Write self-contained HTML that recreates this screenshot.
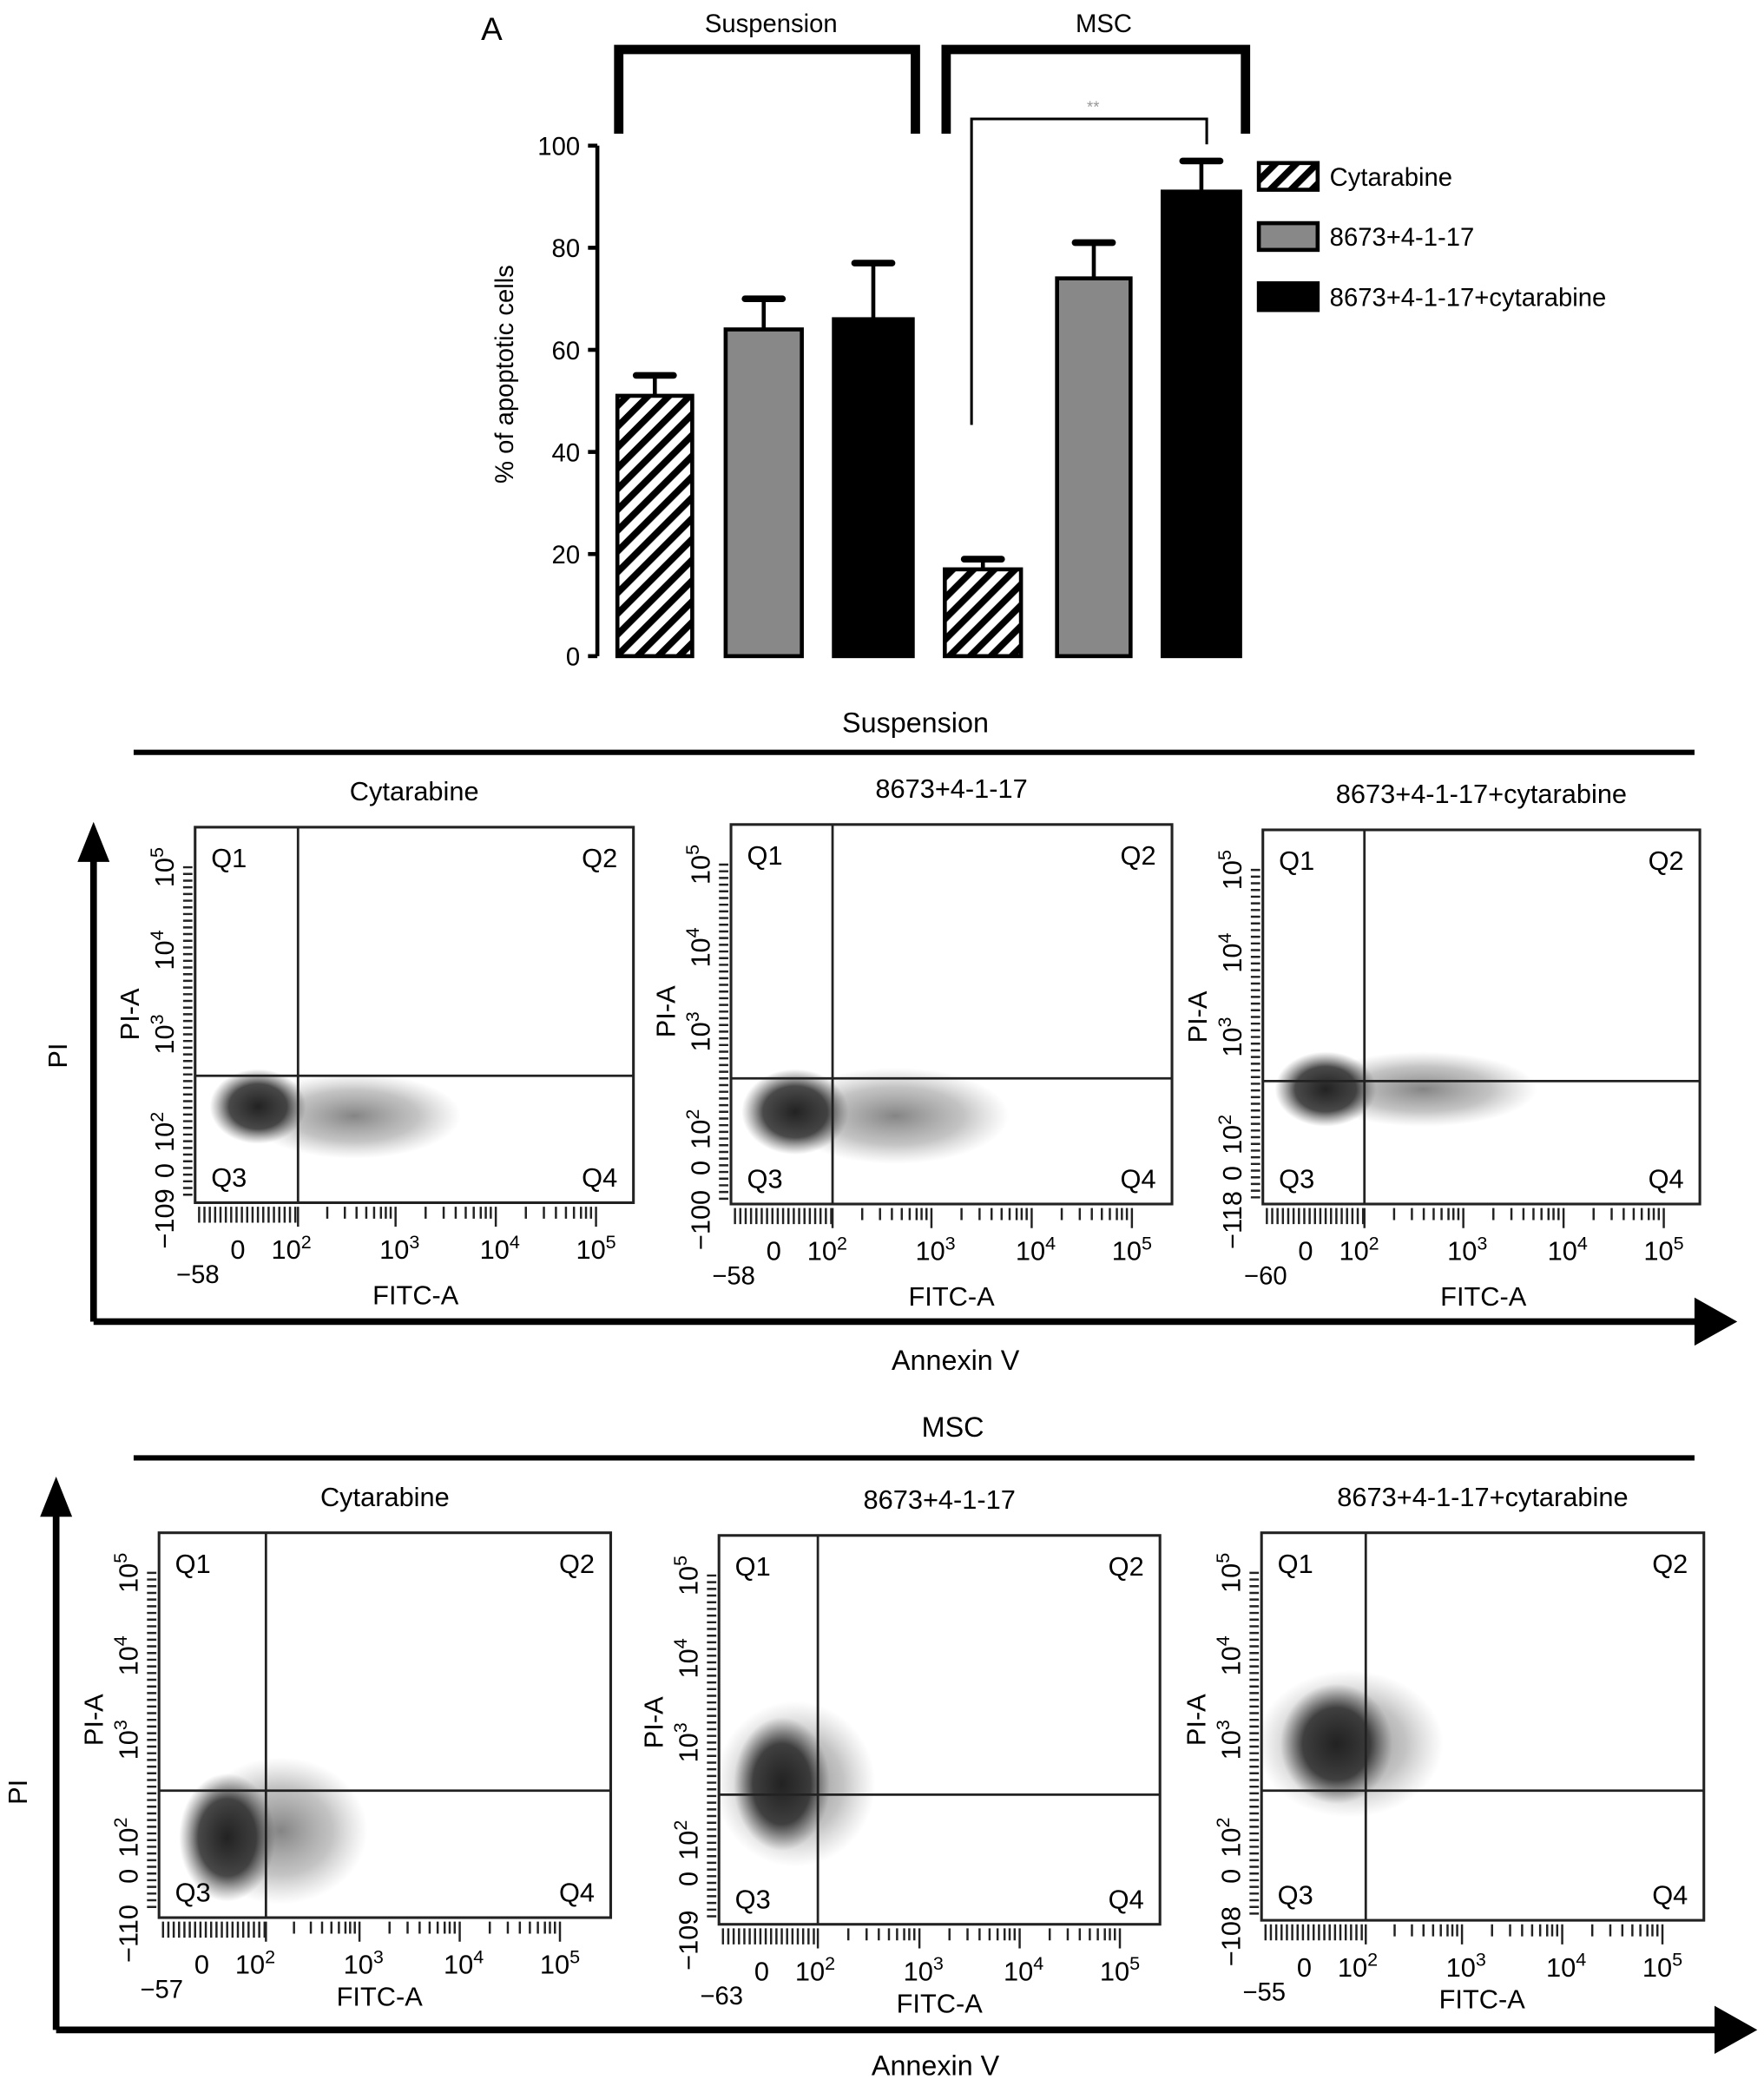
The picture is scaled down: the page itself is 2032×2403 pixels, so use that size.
<!DOCTYPE html>
<html><head><meta charset="utf-8"><style>
html,body{margin:0;padding:0;background:#fff;}
svg{display:block;font-family:"Liberation Sans",Arial,sans-serif;}
</style></head><body>
<svg id="fig" width="2032" height="2403" viewBox="0 0 1320 1561" xmlns="http://www.w3.org/2000/svg">
<defs>
<pattern id="hatch" patternUnits="userSpaceOnUse" width="11" height="11" patternTransform="rotate(45)">
<rect width="11" height="11" fill="#fff"/><rect x="0" y="0" width="5" height="11" fill="#000"/>
</pattern>
<radialGradient id="cloud"><stop offset="0" stop-color="#222" stop-opacity="1"/><stop offset="0.6" stop-color="#2a2a2a" stop-opacity="0.85"/><stop offset="1" stop-color="#555" stop-opacity="0"/></radialGradient>
<radialGradient id="cloudLight"><stop offset="0" stop-color="#333" stop-opacity="0.6"/><stop offset="0.6" stop-color="#555" stop-opacity="0.35"/><stop offset="1" stop-color="#777" stop-opacity="0"/></radialGradient>
</defs>
<g id="bar-chart"></g>
<g id="flow"></g>
</svg>
<script>
const NS="http://www.w3.org/2000/svg";
const groups=["Suspension","MSC"];
const series=["Cytarabine","8673+4-1-17","8673+4-1-17+cytarabine"];
const values=[51,64,66,17,74,91];
const errors=[4,6,11,2,7,6];
const yTicks=[0,20,40,60,80,100];

function mk(parent,tag,attrs,text){const e=document.createElementNS(NS,tag);for(const k in attrs)e.setAttribute(k,attrs[k]);if(text!==undefined)e.textContent=text;parent.appendChild(e);return e;}
function label(parent,attrs,base,exp){const t=mk(parent,'text',attrs,base);if(exp){mk(t,'tspan',{dy:-8,'font-size':14},exp);}return t;}

const bc=document.getElementById('bar-chart');
const y0=491,yPer=3.82;
const Y=v=>y0-v*yPer;
const barX=[462,543,624,707,791,870], barW=[56,57,59,57,55,58];
const fills=["url(#hatch)","#888","#000"];
let ax=mk(bc,'line',{x1:447,y1:Y(0),x2:447,y2:Y(100),stroke:'#000','stroke-width':3});

yTicks.forEach(t=>{
 const l=mk(bc,'line',{x1:440,y1:Y(t),x2:447,y2:Y(t),stroke:'#000','stroke-width':3});
 
 const tx=mk(bc,'text',{x:434,y:Y(t)+7,'font-size':19,'text-anchor':'end'},t);
 
});
let yt=mk(bc,'text',{x:384,y:280,'font-size':19,'text-anchor':'middle',transform:'rotate(-90 384 280)'},'% of apoptotic cells');

values.forEach((v,i)=>{
 const x=barX[i],w=barW[i],top=Y(v+errors[i]);
 const e1=mk(bc,'line',{x1:x+w/2,y1:Y(v),x2:x+w/2,y2:top,stroke:'#000','stroke-width':3});
 
 const e2=mk(bc,'line',{x1:x+w/2-14,y1:top,x2:x+w/2+14,y2:top,stroke:'#000','stroke-width':5,'stroke-linecap':'round'});
 
 const r=mk(bc,'rect',{x:x,y:Y(v),width:w,height:v*yPer,fill:fills[i%3],stroke:'#000','stroke-width':3});
 
 
});
mk(bc,'text',{x:360,y:30,'font-size':24},'A');
[[463,685,'Suspension',577],[708,932,'MSC',826]].forEach(b=>{
 const p=mk(bc,'path',{d:`M${b[0]} 100 V37 H${b[1]} V100`,fill:'none',stroke:'#000','stroke-width':7});
 
 const t=mk(bc,'text',{x:b[3],y:24,'font-size':19,'text-anchor':'middle'},b[2]);
 
});
let sig=mk(bc,'path',{d:'M727 318 V89 H903 V108',fill:'none',stroke:'#000','stroke-width':2});

let st=mk(bc,'text',{x:818,y:84,'font-size':12,fill:'#999','text-anchor':'middle'},'**');

series.forEach((s,i)=>{
 const yy=122+i*45;
 const r=mk(bc,'rect',{x:942,y:yy,width:44,height:20,fill:fills[i],stroke:'#000','stroke-width':3});
 
 const t=mk(bc,'text',{x:995,y:yy+17,'font-size':19},s);
 
});

const fl=document.getElementById('flow');
const panels=[
 {l:146,t:619,r:474,b:900,gx:223,gy:805,ymin:'−109',xmin:'−58',title:'Cytarabine',clouds:[[265,835,80,32,'cloudLight'],[193,828,36,28,'cloud']]},
 {l:547,t:617,r:877,b:901,gx:623,gy:807,ymin:'−100',xmin:'−58',title:'8673+4-1-17',clouds:[[670,835,85,36,'cloudLight'],[595,832,40,32,'cloud']]},
 {l:945,t:621,r:1272,b:901,gx:1021,gy:809,ymin:'−118',xmin:'−60',title:'8673+4-1-17+cytarabine',clouds:[[1065,815,85,28,'cloudLight'],[992,815,38,28,'cloud']]},
 {l:119,t:1147,r:457,b:1435,gx:199,gy:1340,ymin:'−110',xmin:'−57',title:'Cytarabine',clouds:[[210,1370,65,55,'cloudLight'],[170,1375,36,48,'cloud']]},
 {l:538,t:1149,r:868,b:1440,gx:612,gy:1343,ymin:'−109',xmin:'−63',title:'8673+4-1-17',clouds:[[595,1335,60,62,'cloudLight'],[585,1335,36,50,'cloud']]},
 {l:944,t:1147,r:1275,b:1437,gx:1022,gy:1340,ymin:'−108',xmin:'−55',title:'8673+4-1-17+cytarabine',clouds:[[1010,1305,70,55,'cloudLight'],[1000,1305,42,45,'cloud']]}
];
panels.forEach((p,i)=>{
 const g=mk(fl,'g',{});
 
 const cx=(p.l+p.r)/2;
 const tt=mk(g,'text',{x:cx,y:p.t-20,'font-size':20,'text-anchor':'middle'},p.title);
 
 const cl=mk(g,'g',{});
 p.clouds.forEach(c=>mk(cl,'ellipse',{cx:c[0],cy:c[1],rx:c[2],ry:c[3],fill:`url(#${c[4]})`}));
 
 const bx=mk(g,'rect',{x:p.l,y:p.t,width:p.r-p.l,height:p.b-p.t,fill:'none',stroke:'#222','stroke-width':2});
 
 const gv=mk(g,'line',{x1:p.gx,y1:p.t,x2:p.gx,y2:p.b,stroke:'#222','stroke-width':1.8});
 
 const gh=mk(g,'line',{x1:p.l,y1:p.gy,x2:p.r,y2:p.gy,stroke:'#222','stroke-width':1.8});
 
 [['Q1',p.l+12,p.t+30,'start'],['Q2',p.r-12,p.t+30,'end'],['Q3',p.l+12,p.b-12,'start'],['Q4',p.r-12,p.b-12,'end']].forEach(q=>{
  const t=mk(g,'text',{x:q[1],y:q[2],'font-size':20,'text-anchor':q[3]},q[0]);
  
 });
 let d='';
 for(let x=p.l+3;x<p.gx;x+=4)d+=`M${x} ${p.b+3}V${p.b+15}`;
 [p.gx,p.l+150,p.l+225,p.l+300].forEach((dx,k)=>{const s=dx;const e=k==0?p.l+150:(k==3?s:dx+75);
  d+=`M${s} ${p.b+3}V${p.b+18}`;
  if(k<3){for(const f of [0.3,0.48,0.6,0.7,0.78,0.85,0.9,0.95])d+=`M${s+(e-s)*f} ${p.b+3}V${p.b+12}`;}});
 for(let y=p.t+30;y<p.b-3;y+=5)d+=`M${p.l-2} ${y}H${p.l-9}`;
 const tk=mk(g,'path',{d:d,stroke:'#222','stroke-width':1.6,fill:'none'});
 
 const xl=[['0','',p.l+32],['10','2',p.l+72],['10','3',p.l+153],['10','4',p.l+228],['10','5',p.l+300]];
 xl.forEach(a=>{const t=label(g,{x:a[2],y:p.b+42,'font-size':20,'text-anchor':'middle'},a[0],a[1]);
  });
 const xm=mk(g,'text',{x:p.l+2,y:p.b+60,'font-size':19,'text-anchor':'middle'},p.xmin);
 
 const fx=mk(g,'text',{x:p.l+165,y:p.b+(i>=3?66:76),'font-size':20,'text-anchor':'middle'},'FITC-A');
 
 const yl=[['10','5',p.t+30],['10','4',p.t+92],['10','3',p.t+155],['10','2',p.t+228],['0','',p.t+257],[p.ymin,'',p.b+12]];
 const lx=p.l-16;
 yl.forEach(a=>{const t=label(g,{x:lx,y:a[2],'font-size':20,'text-anchor':'middle',transform:`rotate(-90 ${lx} ${a[2]})`},a[0],a[1]);
  });
 const pa=mk(g,'text',{x:p.l-42,y:p.t+140,'font-size':20,'text-anchor':'middle',transform:`rotate(-90 ${p.l-42} ${p.t+140})`},'PI-A');
 
});
[[685,541,563,'Suspension'],[713,1068,1091,'MSC']].forEach(s=>{
 const t=mk(fl,'text',{x:s[0],y:s[1]+7,'font-size':21,'text-anchor':'middle'},s[3]);
 
 const l=mk(fl,'line',{x1:100,y1:s[2],x2:1268,y2:s[2],stroke:'#000','stroke-width':4});
 
});
[[70,989,615,1300,50,790,715,1025],[42,1519,1105,1315,20,1341,700,1553]].forEach(a=>{
 const p=mk(fl,'path',{d:`M${a[0]} ${a[1]} V${a[2]+28} M${a[0]} ${a[1]} H${a[3]-30}`,stroke:'#000','stroke-width':5,fill:'none'});
 
 mk(fl,'polygon',{points:`${a[0]-12},${a[2]+30} ${a[0]+12},${a[2]+30} ${a[0]},${a[2]}`,fill:'#000'});
 mk(fl,'polygon',{points:`${a[3]-32},${a[1]-18} ${a[3]-32},${a[1]+18} ${a[3]},${a[1]}`,fill:'#000'});
 const pi=mk(fl,'text',{x:a[4],y:a[5],'font-size':20,'text-anchor':'middle',transform:`rotate(-90 ${a[4]} ${a[5]})`},'PI');
 
 const an=mk(fl,'text',{x:a[6],y:a[7],'font-size':21,'text-anchor':'middle'},'Annexin V');
 
});
</script>
</body></html>
